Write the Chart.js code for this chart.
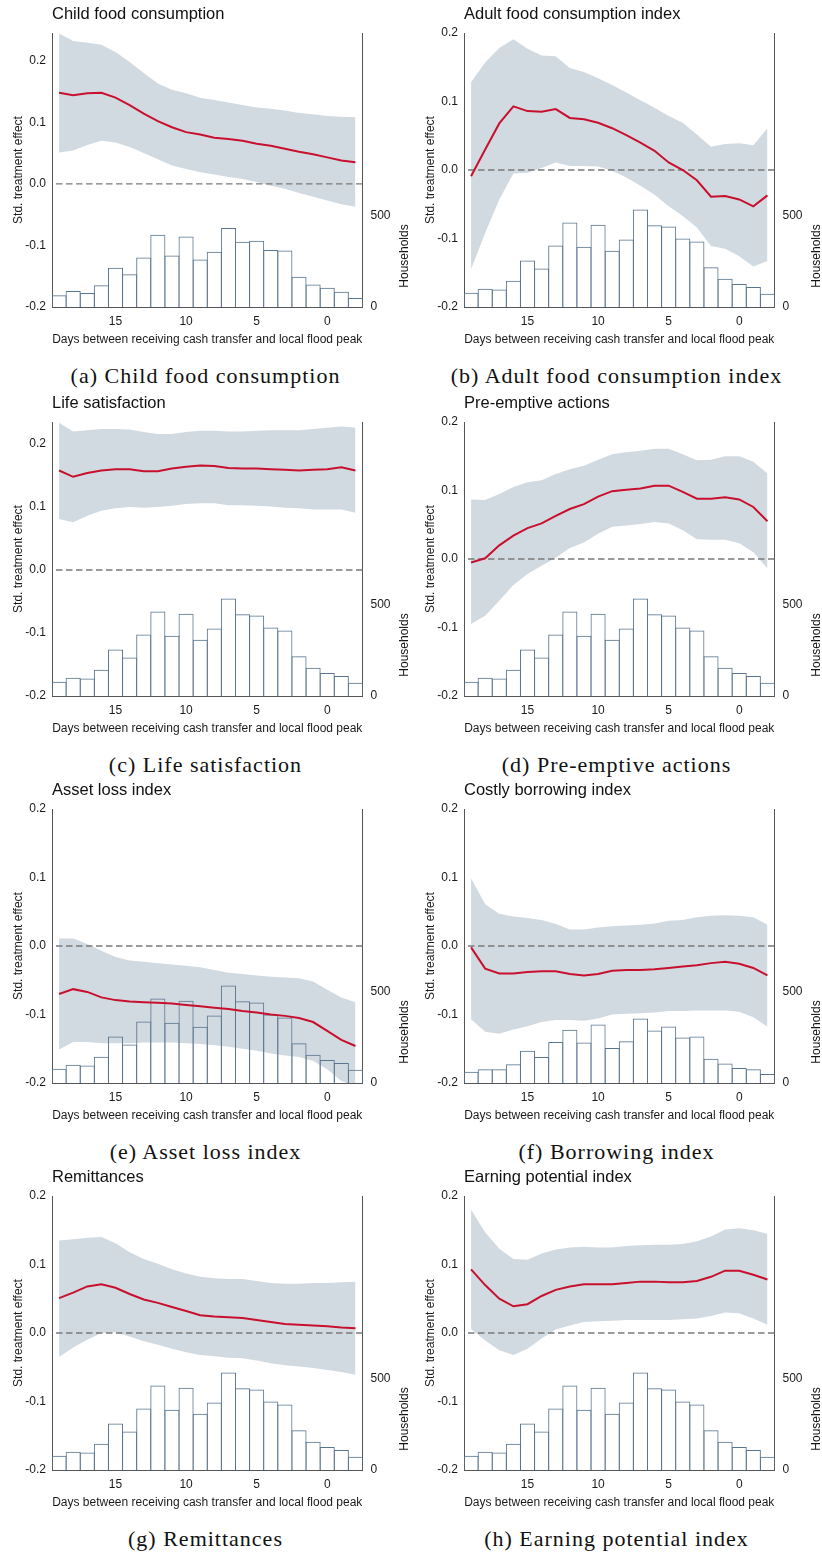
<!DOCTYPE html>
<html>
<head>
<meta charset="utf-8">
<title>Treatment effects by timing of cash transfer</title>
<script src="https://cdn.jsdelivr.net/npm/chart.js@4.4.0/dist/chart.umd.min.js"></script>
<style>
  body { margin: 0; background: #fff; }
  #page { position: relative; width: 822px; height: 1553px; overflow: hidden; }
  canvas { position: absolute; }
  .caption {
    position: absolute; width: 411px; text-align: center;
    font-family: "Liberation Serif", "Times New Roman", serif;
    font-size: 22px; letter-spacing: 1px; line-height: 24px; color: #111;
  }
</style>
</head>
<body>
<div id="page"></div>
<script>
// days between receiving cash transfer and local flood peak
const days = [19, 18, 17, 16, 15, 14, 13, 12, 11, 10, 9, 8, 7, 6, 5, 4, 3, 2, 1, 0, -1, -2];
const xTicks = [15, 10, 5, 0];
const effectTicks = [-0.2, -0.1, 0, 0.1, 0.2];
const householdTicks = [0, 500];

// households per day (histograms)
const histChild = [65, 87, 76, 119, 215, 179, 271, 395, 282, 386, 260, 303, 433, 357, 363, 312, 309, 166, 123, 106, 83, 49];
const histMain = [78, 100, 96, 144, 254, 211, 336, 462, 330, 450, 308, 369, 534, 447, 441, 375, 359, 218, 154, 126, 110, 72];
const histBorrow = [62, 75, 75, 102, 176, 142, 224, 291, 222, 320, 191, 229, 353, 287, 309, 249, 255, 133, 107, 82, 75, 49];

// (a) child food consumption
const childEst = [0.148, 0.144, 0.147, 0.148, 0.140, 0.128, 0.114, 0.102, 0.092, 0.084, 0.080, 0.075, 0.073, 0.070, 0.065, 0.062, 0.057, 0.052, 0.048, 0.043, 0.038, 0.035];
const childHi = [0.244, 0.232, 0.229, 0.226, 0.214, 0.198, 0.180, 0.163, 0.153, 0.147, 0.140, 0.136, 0.132, 0.128, 0.124, 0.122, 0.119, 0.115, 0.113, 0.110, 0.109, 0.108];
const childLo = [0.051, 0.054, 0.063, 0.070, 0.067, 0.060, 0.050, 0.040, 0.030, 0.024, 0.019, 0.015, 0.011, 0.008, 0.003, -0.003, -0.008, -0.015, -0.021, -0.027, -0.033, -0.037];

// (b) adult food consumption index
const adultEst = [-0.009, 0.030, 0.068, 0.093, 0.086, 0.085, 0.089, 0.076, 0.074, 0.069, 0.061, 0.051, 0.040, 0.028, 0.011, 0.000, -0.015, -0.039, -0.038, -0.043, -0.053, -0.037];
const adultHi = [0.128, 0.157, 0.178, 0.191, 0.177, 0.167, 0.166, 0.149, 0.143, 0.134, 0.124, 0.113, 0.102, 0.091, 0.079, 0.069, 0.052, 0.034, 0.038, 0.039, 0.036, 0.061];
const adultLo = [-0.145, -0.092, -0.043, -0.005, -0.004, 0.003, 0.011, 0.006, 0.006, 0.005, -0.001, -0.011, -0.023, -0.036, -0.053, -0.067, -0.084, -0.111, -0.115, -0.126, -0.141, -0.133];

// (c) life satisfaction
const lifeEst = [0.158, 0.148, 0.154, 0.158, 0.160, 0.160, 0.157, 0.157, 0.161, 0.164, 0.166, 0.165, 0.162, 0.161, 0.161, 0.160, 0.159, 0.158, 0.159, 0.160, 0.163, 0.158];
const lifeHi = [0.234, 0.220, 0.222, 0.224, 0.224, 0.223, 0.219, 0.216, 0.216, 0.219, 0.221, 0.221, 0.220, 0.220, 0.221, 0.222, 0.222, 0.222, 0.224, 0.226, 0.228, 0.226];
const lifeLo = [0.081, 0.076, 0.086, 0.094, 0.098, 0.100, 0.099, 0.100, 0.102, 0.105, 0.106, 0.106, 0.103, 0.103, 0.102, 0.101, 0.099, 0.098, 0.096, 0.096, 0.096, 0.091];

// (d) pre-emptive actions
const preEst = [-0.005, 0.001, 0.020, 0.034, 0.045, 0.052, 0.063, 0.073, 0.080, 0.091, 0.099, 0.101, 0.103, 0.107, 0.107, 0.098, 0.088, 0.088, 0.090, 0.087, 0.076, 0.055];
const preHi = [0.087, 0.086, 0.095, 0.105, 0.112, 0.115, 0.124, 0.131, 0.136, 0.145, 0.153, 0.156, 0.158, 0.161, 0.161, 0.153, 0.144, 0.145, 0.150, 0.150, 0.142, 0.125];
const preLo = [-0.095, -0.083, -0.061, -0.038, -0.022, -0.010, 0.002, 0.016, 0.024, 0.037, 0.047, 0.049, 0.051, 0.054, 0.052, 0.042, 0.029, 0.028, 0.028, 0.023, 0.010, -0.014];

// (e) asset loss index
const assetEst = [-0.070, -0.063, -0.067, -0.075, -0.079, -0.081, -0.082, -0.083, -0.084, -0.086, -0.088, -0.090, -0.092, -0.095, -0.097, -0.100, -0.102, -0.105, -0.111, -0.124, -0.137, -0.146];
const assetHi = [0.011, 0.011, 0.003, -0.007, -0.016, -0.021, -0.023, -0.025, -0.027, -0.029, -0.031, -0.035, -0.039, -0.041, -0.043, -0.045, -0.046, -0.047, -0.052, -0.064, -0.075, -0.082];
const assetLo = [-0.151, -0.140, -0.140, -0.142, -0.142, -0.142, -0.141, -0.141, -0.141, -0.142, -0.143, -0.145, -0.147, -0.150, -0.153, -0.157, -0.160, -0.162, -0.168, -0.180, -0.197, -0.205];

// (f) costly borrowing index
const borrowEst = [-0.002, -0.033, -0.040, -0.040, -0.038, -0.037, -0.037, -0.041, -0.043, -0.041, -0.036, -0.035, -0.035, -0.034, -0.032, -0.030, -0.028, -0.025, -0.023, -0.026, -0.032, -0.043];
const borrowHi = [0.099, 0.061, 0.047, 0.043, 0.041, 0.038, 0.032, 0.024, 0.024, 0.027, 0.029, 0.030, 0.031, 0.033, 0.037, 0.038, 0.042, 0.044, 0.045, 0.044, 0.042, 0.031];
const borrowLo = [-0.107, -0.125, -0.128, -0.122, -0.117, -0.111, -0.108, -0.108, -0.109, -0.106, -0.100, -0.099, -0.098, -0.097, -0.095, -0.095, -0.094, -0.094, -0.094, -0.096, -0.104, -0.118];

// (g) remittances
const remitEst = [0.051, 0.059, 0.068, 0.071, 0.066, 0.057, 0.049, 0.044, 0.038, 0.032, 0.026, 0.024, 0.023, 0.022, 0.019, 0.016, 0.013, 0.012, 0.011, 0.010, 0.008, 0.007];
const remitHi = [0.135, 0.137, 0.139, 0.140, 0.131, 0.118, 0.108, 0.101, 0.093, 0.087, 0.082, 0.080, 0.079, 0.079, 0.076, 0.073, 0.072, 0.072, 0.073, 0.073, 0.074, 0.075];
const remitLo = [-0.035, -0.021, -0.010, 0.000, 0.001, -0.005, -0.012, -0.017, -0.023, -0.028, -0.032, -0.034, -0.036, -0.037, -0.040, -0.044, -0.047, -0.049, -0.051, -0.054, -0.057, -0.061];

// (h) earning potential index
const earnEst = [0.093, 0.070, 0.050, 0.039, 0.042, 0.054, 0.063, 0.068, 0.071, 0.071, 0.071, 0.073, 0.075, 0.075, 0.074, 0.074, 0.076, 0.082, 0.091, 0.091, 0.085, 0.078];
const earnHi = [0.180, 0.147, 0.123, 0.108, 0.107, 0.116, 0.122, 0.125, 0.126, 0.125, 0.125, 0.127, 0.128, 0.129, 0.129, 0.130, 0.134, 0.141, 0.151, 0.153, 0.150, 0.145];
const earnLo = [0.006, -0.011, -0.025, -0.032, -0.023, -0.008, 0.005, 0.011, 0.016, 0.017, 0.018, 0.019, 0.019, 0.019, 0.019, 0.020, 0.021, 0.025, 0.030, 0.029, 0.021, 0.012];

const titles = ["Child food consumption", "Adult food consumption index", "Life satisfaction", "Pre-emptive actions",
  "Asset loss index", "Costly borrowing index", "Remittances", "Earning potential index"];
const captions = ["(a) Child food consumption", "(b) Adult food consumption index", "(c) Life satisfaction", "(d) Pre-emptive actions",
  "(e) Asset loss index", "(f) Borrowing index", "(g) Remittances", "(h) Earning potential index"];
const effectMax = [0.245, 0.2, 0.235, 0.2, 0.2, 0.2, 0.2, 0.2];

const panels = [
  [childEst, childLo, childHi, histChild],
  [adultEst, adultLo, adultHi, histMain],
  [lifeEst, lifeLo, lifeHi, histMain],
  [preEst, preLo, preHi, histMain],
  [assetEst, assetLo, assetHi, histMain],
  [borrowEst, borrowLo, borrowHi, histBorrow],
  [remitEst, remitLo, remitHi, histMain],
  [earnEst, earnLo, earnHi, histMain]
];

const rowTops = [0, 389, 776, 1163];
const colLefts = [0, 412];
const sans = '"Liberation Sans", Arial, sans-serif';

// panel title and the rotated right-axis title (reads bottom to top)
const panelText = {
  id: 'panelText',
  afterDraw(chart, args, opts) {
    const ctx = chart.ctx;
    const area = chart.chartArea;
    ctx.save();
    ctx.fillStyle = '#111';
    ctx.font = '16.5px ' + sans;
    ctx.textAlign = 'left';
    ctx.textBaseline = 'middle';
    ctx.fillText(opts.title, area.left, 14);
    ctx.font = '12px ' + sans;
    ctx.translate(area.right + 42.5, area.top + 223);
    ctx.rotate(-Math.PI / 2);
    ctx.textAlign = 'center';
    ctx.fillText('Households', 0, 0);
    ctx.restore();
  }
};

const page = document.getElementById('page');

function pts(values) {
  return days.map((d, i) => ({ x: d, y: values[i] }));
}

for (let p = 0; p < panels.length; p++) {
  const [est, lo, hi, hist] = panels[p];
  const left = colLefts[p % 2];
  const top = rowTops[Math.floor(p / 2)];

  const canvas = document.createElement('canvas');
  canvas.width = 410;
  canvas.height = 350;
  canvas.style.left = left + 'px';
  canvas.style.top = top + 'px';
  page.appendChild(canvas);

  const cap = document.createElement('div');
  cap.className = 'caption';
  cap.style.left = (left === 0 ? 0 : 411) + 'px';
  cap.style.top = (top + 376 - 12) + 'px';
  cap.textContent = captions[p];
  page.appendChild(cap);

  new Chart(canvas.getContext('2d'), {
    type: 'line',
    data: {
      datasets: [
        { label: 'Estimate', data: pts(est), borderColor: '#c8102e', borderWidth: 2,
          pointRadius: 0, fill: false, yAxisID: 'y' },
        { label: 'Zero', data: [{ x: -2.5, y: 0 }, { x: 19.5, y: 0 }], borderColor: '#7a7a7a',
          borderWidth: 1.3, borderDash: [6.5, 3.5], pointRadius: 0, fill: false, yAxisID: 'y' },
        // bars a little wider than one day so neighbouring borders share one pixel
        { type: 'bar', label: 'Households', data: pts(hist), backgroundColor: 'rgba(255,255,255,0)',
          borderColor: '#5a758f', borderWidth: 1, barPercentage: 1.07, categoryPercentage: 1, yAxisID: 'y2' },
        { label: 'Upper', data: pts(hi), borderWidth: 0, pointRadius: 0,
          backgroundColor: '#d2dae1', fill: '+1', yAxisID: 'y' },
        { label: 'Lower', data: pts(lo), borderWidth: 0, pointRadius: 0, fill: false, yAxisID: 'y' }
      ]
    },
    options: {
      responsive: false,
      animation: false,
      devicePixelRatio: 1,
      layout: { padding: { top: 33, left: 0, right: 0, bottom: 0 } },
      plugins: {
        legend: { display: false },
        tooltip: { enabled: false },
        panelText: { title: titles[p] }
      },
      scales: {
        x: {
          type: 'linear', reverse: true, min: -2.5, max: 19.5, offset: false,
          afterBuildTicks: (s) => { s.ticks = xTicks.map(v => ({ value: v })); },
          afterFit: (s) => { s.height = 43; },
          grid: { display: false, drawTicks: false },
          border: { display: true, color: '#555', width: 1 },
          ticks: { padding: 7, color: '#1a1a1a', font: { family: sans, size: 12 }, maxRotation: 0 },
          title: { display: true, text: 'Days between receiving cash transfer and local flood peak',
            color: '#1a1a1a', font: { family: sans, size: 12 }, padding: { top: 0, bottom: 3 } }
        },
        y: {
          position: 'left', min: -0.2, max: effectMax[p],
          afterBuildTicks: (s) => { s.ticks = effectTicks.map(v => ({ value: v })); },
          afterFit: (s) => { s.width = 52; },
          grid: { display: false, drawTicks: false },
          border: { display: true, color: '#555', width: 1 },
          ticks: { padding: 6, color: '#1a1a1a', font: { family: sans, size: 12 },
            callback: (v) => v.toFixed(1) },
          title: { display: true, text: 'Std. treatment effect', color: '#1a1a1a',
            font: { family: sans, size: 12 }, padding: { top: 11, bottom: 0 } }
        },
        y2: {
          position: 'right', min: 0, max: 1500,
          afterBuildTicks: (s) => { s.ticks = householdTicks.map(v => ({ value: v })); },
          afterFit: (s) => { s.width = 47.5; },
          grid: { display: false, drawTicks: false },
          border: { display: true, color: '#555', width: 1 },
          ticks: { padding: 8, color: '#1a1a1a', font: { family: sans, size: 12 } }
        }
      }
    },
    plugins: [panelText]
  });
}
</script>
</body>
</html>
